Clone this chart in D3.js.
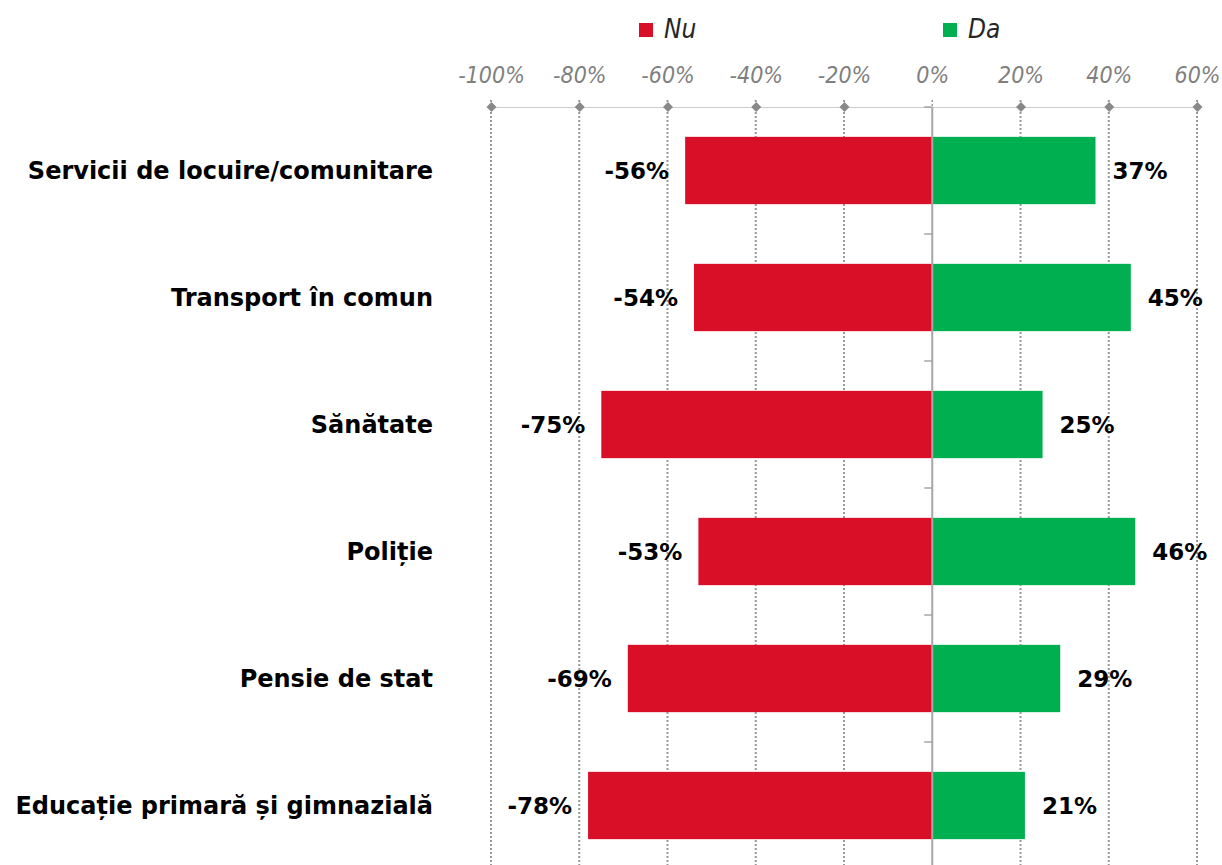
<!DOCTYPE html>
<html><head><meta charset="utf-8">
<script src="https://cdn.jsdelivr.net/npm/d3@7/dist/d3.min.js"></script>
<style>body{margin:0;background:#fff;}svg{display:block;}</style>
</head><body>
<svg id="c" width="1222" height="865"></svg>
<script>
const categories = ["Servicii de locuire/comunitare","Transport în comun","Sănătate","Poliție","Pensie de stat","Educație primară și gimnazială"];
const nuValues = [-56,-54,-75,-53,-69,-78];
const daValues = [37,45,25,46,29,21];
const tickValues = [-100,-80,-60,-40,-20,0,20,40,60];
const seriesNames = ["Nu","Da"];
const colors = {Nu:"#D90F27", Da:"#00B050"};

const svg = d3.select("#c");
const font = "'DejaVu Sans', sans-serif";
const narrow = "'Liberation Sans Narrow', 'DejaVu Sans Condensed', sans-serif";
const x = d3.scaleLinear().domain([-100,60]).range([491,1197]);
const y = d3.scaleBand().domain(categories).range([107,869]).paddingInner(0.47).paddingOuter(0.235);

// gridlines
svg.append("g").selectAll("line").data(tickValues.filter(d=>d!==0)).join("line")
  .attr("x1",d=>x(d)).attr("x2",d=>x(d)).attr("y1",100).attr("y2",865)
  .attr("stroke","#999").attr("stroke-width",2).attr("stroke-dasharray","2,2");
svg.append("line").attr("x1",x(0)).attr("x2",x(0)).attr("y1",100).attr("y2",107)
  .attr("stroke","#999").attr("stroke-width",1.5).attr("stroke-dasharray","2,2");

// top axis
const axis = d3.axisTop(x).tickValues(tickValues).tickFormat(d=>d+"%").tickSize(0).tickPadding(24);
const ag = svg.append("g").attr("transform","translate(0,107)").call(axis);
ag.select(".domain").attr("stroke","#999").attr("stroke-width",1).attr("stroke-dasharray","1,1");
ag.selectAll("text").attr("font-family",narrow).attr("font-style","italic").attr("font-size",23).attr("fill","#7f7f7f");
ag.selectAll(".tick").filter(d=>d!==0).append("path").attr("d","M0,-5L5,0L0,5L-5,0Z").attr("fill","#888");

// bars
const rows = categories.map((c,i)=>({c, nu:nuValues[i], da:daValues[i]}));
const bars = svg.append("g");
bars.selectAll(".nu").data(rows).join("rect")
  .attr("x",d=>x(d.nu)).attr("width",d=>x(0)-x(d.nu)).attr("y",d=>y(d.c)).attr("height",y.bandwidth())
  .attr("fill",colors.Nu);
bars.selectAll(".da").data(rows).join("rect")
  .attr("x",x(0)).attr("width",d=>x(d.da)-x(0)).attr("y",d=>y(d.c)).attr("height",y.bandwidth())
  .attr("fill",colors.Da);

// zero line + category separators
svg.append("line").attr("x1",x(0)).attr("x2",x(0)).attr("y1",107).attr("y2",865).attr("stroke","#a6a6a6").attr("stroke-width",2);
svg.append("line").attr("x1",x(0)-8).attr("x2",x(0)).attr("y1",107).attr("y2",107).attr("stroke","#a6a6a6").attr("stroke-width",1.5);
svg.append("g").selectAll("line").data(categories.slice(1)).join("line")
  .attr("x1",x(0)-8).attr("x2",x(0)).attr("y1",d=>y(d)-y.step()*y.paddingInner()/2).attr("y2",d=>y(d)-y.step()*y.paddingInner()/2)
  .attr("stroke","#a6a6a6").attr("stroke-width",1.5);

// value labels
const lab = svg.append("g").attr("font-family",font).attr("font-weight","bold").attr("font-size",23).attr("fill","#000");
lab.selectAll(".ln").data(rows).join("text")
  .attr("x",d=>x(d.nu)-16).attr("y",d=>y(d.c)+y.bandwidth()/2).attr("dy","0.36em").attr("text-anchor","end")
  .text(d=>d.nu+"%");
lab.selectAll(".ld").data(rows).join("text")
  .attr("x",d=>x(d.da)+17).attr("y",d=>y(d.c)+y.bandwidth()/2).attr("dy","0.36em").attr("text-anchor","start")
  .text(d=>d.da+"%");

// category labels
svg.append("g").attr("font-family",font).attr("font-weight","bold").attr("font-size",24).attr("fill","#000")
  .selectAll("text").data(categories).join("text")
  .attr("x",433).attr("y",d=>y(d)+y.bandwidth()/2).attr("dy","0.36em").attr("text-anchor","end").text(d=>d);

// legend
const lg = svg.append("g").selectAll("g").data(seriesNames).join("g")
  .attr("transform",(d,i)=>`translate(${[639,943][i]},0)`);
lg.append("rect").attr("x",0).attr("y",23).attr("width",14).attr("height",14).attr("fill",d=>colors[d]);
lg.append("text").attr("x",25).attr("y",38).attr("font-family",narrow).attr("font-style","italic")
  .attr("font-size",26).attr("fill","#262626").text(d=>d);
</script>
</body></html>
